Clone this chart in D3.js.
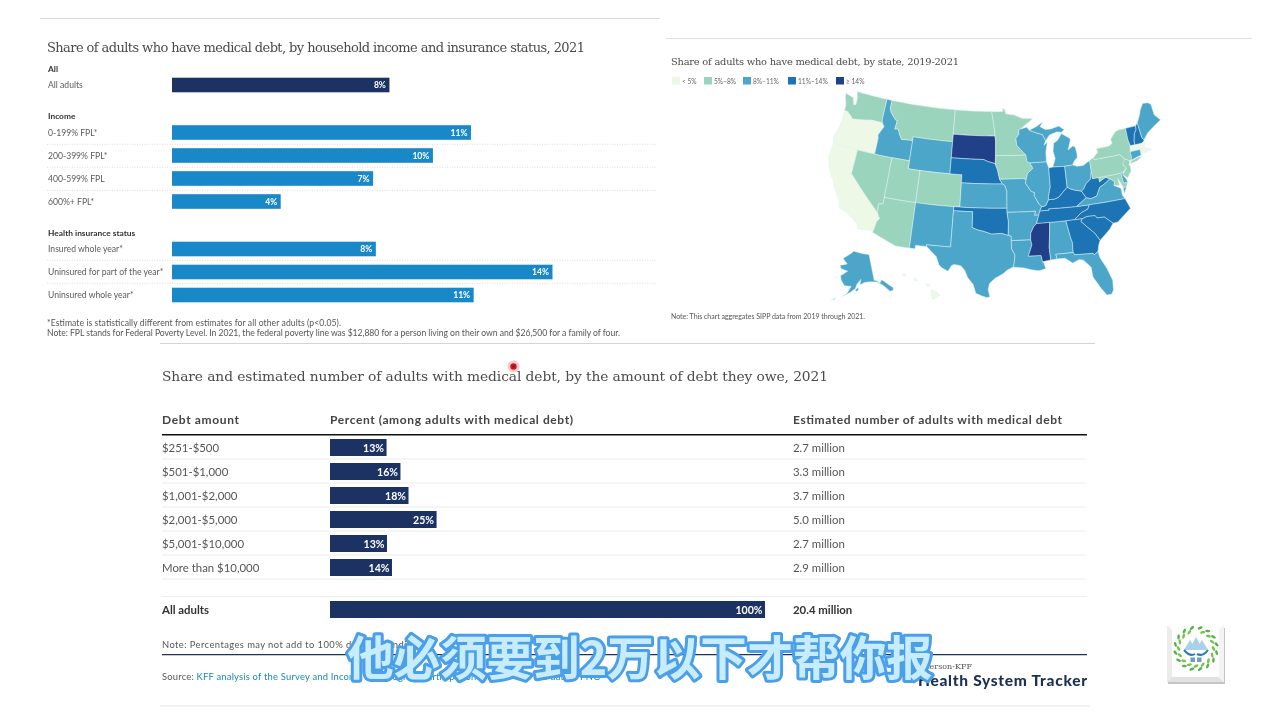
<!DOCTYPE html>
<html><head><meta charset="utf-8">
<style>html,body{margin:0;padding:0;background:#fff}svg{display:block;filter:blur(.3px)}</style>
<script src="https://d3js.org/d3.v7.min.js"></script></head><body><svg id="c" width="1280" height="720"></svg>
<script>
const groupAll=["All adults"], allValues=[8.0];
const incomeCats=["0-199% FPL*","200-399% FPL*","400-599% FPL","600%+ FPL*"], incomeValues=[11.0,9.6,7.4,4.0];
const insuranceCats=["Insured whole year*","Uninsured for part of the year*","Uninsured whole year*"], insuranceValues=[7.5,14.0,11.1];
const debtCats=["$251-$500","$501-$1,000","$1,001-$2,000","$2,001-$5,000","$5,001-$10,000","More than $10,000"];
const debtPercent=[13.0,16.2,18.05,24.5,13.1,14.25];
const debtMillions=["2.7 million","3.3 million","3.7 million","5.0 million","2.7 million","2.9 million"];
const legendLabels=["< 5%","5%–8%","8%–11%","11%–14%","≥ 14%"];
const legendColors=["#edf8e6","#9bd4bc","#4ba6c9","#1c74b4","#21408a"];
const bandUnder5=["OR","CA","MA","RI","HI"];
const band5to8=["WA","MT","ND","MN","IA","NV","UT","CO","AZ","NY","PA","NJ","MD"];
const band8to11=["ID","WY","KS","MO","AR","LA","AL","FL","TX","NM","WI","IL","MI","OH","VA","AK","ME","CT","DE"];
const band11to14=["NE","OK","IN","KY","WV","TN","NC","SC","GA","VT","NH"];
const band14plus=["SD","MS"];
const stateRings={
WA:[[[-124.7,48.4],[-123.2,48.15],[-122.75,47.3],[-122.35,47.4],[-122.45,48.3],[-122.8,49],[-117.03,49],[-117.04,46.4],[-116.92,46],[-118.98,46],[-119.3,45.93],[-121.2,45.65],[-122.3,45.55],[-122.8,45.9],[-123.5,46.25],[-124.05,46.27],[-124.1,47],[-124.6,47.9]]],
OR:[[[-124.05,46.27],[-123.5,46.25],[-122.8,45.9],[-122.3,45.55],[-121.2,45.65],[-119.3,45.93],[-118.98,46],[-116.92,46],[-116.46,45.6],[-116.85,44.95],[-117.2,44.4],[-117.03,44],[-117.03,42],[-120,42],[-124.2,42],[-124.55,42.85],[-124.1,44],[-123.95,45.5]]],
CA:[[[-124.2,42],[-120,42],[-120,39],[-114.63,35],[-114.14,34.3],[-114.5,33.9],[-114.72,32.72],[-117.12,32.53],[-117.3,33.1],[-118.4,33.75],[-119.2,34.15],[-120.6,34.55],[-120.65,35.15],[-121.9,36.6],[-122.5,37.6],[-123,38],[-123.75,39],[-124.35,40.3]]],
NV:[[[-120,42],[-117.03,42],[-114.04,42],[-114.04,37],[-114.04,36.2],[-114.74,36.1],[-114.63,35],[-120,39]]],
ID:[[[-117.03,49],[-116.05,49],[-116.05,48],[-115.7,47.45],[-114.7,46.7],[-114.35,46.65],[-114.5,45.55],[-113.9,45.65],[-113.45,44.95],[-113,44.45],[-111.5,44.55],[-111.05,44.48],[-111.05,42],[-114.04,42],[-117.03,42],[-117.03,44],[-117.2,44.4],[-116.85,44.95],[-116.46,45.6],[-116.92,46],[-117.04,46.4]]],
MT:[[[-116.05,49],[-104.05,49],[-104.05,45.94],[-104.05,45],[-111.05,45],[-111.05,44.48],[-111.5,44.55],[-113,44.45],[-113.45,44.95],[-113.9,45.65],[-114.5,45.55],[-114.35,46.65],[-114.7,46.7],[-115.7,47.45],[-116.05,48]]],
WY:[[[-111.05,45],[-104.05,45],[-104.05,43],[-104.05,41],[-109.05,41],[-111.05,41],[-111.05,42],[-111.05,44.48]]],
UT:[[[-114.04,42],[-111.05,42],[-111.05,41],[-109.05,41],[-109.05,37],[-114.04,37]]],
CO:[[[-109.05,41],[-104.05,41],[-102.05,41],[-102.05,40],[-102.05,37],[-103,37],[-109.05,37]]],
AZ:[[[-114.04,37],[-109.05,37],[-109.05,31.33],[-111.07,31.33],[-114.81,32.5],[-114.72,32.72],[-114.5,33.9],[-114.14,34.3],[-114.63,35],[-114.74,36.1],[-114.04,36.2]]],
NM:[[[-109.05,37],[-103,37],[-103,36.5],[-103.04,32],[-106.62,32],[-106.53,31.78],[-108.2,31.78],[-108.2,31.33],[-109.05,31.33]]],
ND:[[[-104.05,49],[-97.23,49],[-96.85,47.6],[-96.56,45.94],[-104.05,45.94]]],
SD:[[[-104.05,45.94],[-96.56,45.94],[-96.45,45.3],[-96.45,43.5],[-96.5,42.5],[-97.9,42.8],[-98.5,43],[-104.05,43],[-104.05,45]]],
NE:[[[-104.05,43],[-98.5,43],[-97.9,42.8],[-96.5,42.5],[-96.1,41.7],[-95.77,40.58],[-95.3,40],[-102.05,40],[-102.05,41],[-104.05,41]]],
KS:[[[-102.05,40],[-95.3,40],[-94.9,39.8],[-94.6,39.1],[-94.62,37],[-103,37],[-102.05,37]]],
OK:[[[-103,37],[-94.62,37],[-94.62,36.5],[-94.43,35.4],[-94.48,33.64],[-95.5,33.9],[-97,33.8],[-98.1,34.1],[-99.2,34.3],[-100,34.56],[-100,36.5],[-103,36.5]]],
TX:[[[-103,36.5],[-100,36.5],[-100,34.56],[-99.2,34.3],[-98.1,34.1],[-97,33.8],[-95.5,33.9],[-94.48,33.64],[-94.04,33.55],[-94.04,33],[-94.04,32],[-93.55,31.2],[-93.7,30.1],[-93.85,29.7],[-94.7,29.35],[-95.3,28.9],[-96.4,28.35],[-97.2,27.7],[-97.4,26.9],[-97.15,25.96],[-97.6,25.9],[-98.3,26.1],[-99.1,26.4],[-99.5,27.5],[-100.3,28.3],[-100.8,29.25],[-101.4,29.77],[-102.35,29.87],[-102.7,29.7],[-103.15,28.98],[-104,29.3],[-104.5,29.65],[-105,30.65],[-106.53,31.78],[-106.62,32],[-103.04,32]]],
MN:[[[-97.23,49],[-95.15,49],[-95.15,49.38],[-94.8,49.3],[-94.6,48.72],[-93,48.55],[-91.5,48.07],[-89.6,48],[-92,46.75],[-92.3,46.65],[-92.3,46.1],[-92.85,45.6],[-92.75,44.75],[-91.22,43.5],[-96.45,43.5],[-96.45,45.3],[-96.56,45.94],[-96.85,47.6]]],
IA:[[[-96.45,43.5],[-91.22,43.5],[-91.1,42.7],[-90.65,42.5],[-90.15,41.8],[-91.1,41.2],[-91.42,40.38],[-91.73,40.61],[-95.77,40.58],[-96.1,41.7],[-96.5,42.5]]],
MO:[[[-95.77,40.58],[-91.73,40.61],[-91.42,40.38],[-91.5,40],[-90.7,39],[-90.15,38.8],[-90.2,38.4],[-89.5,37.3],[-89.15,37],[-89.5,36.5],[-89.7,36],[-90.37,36],[-90.15,36.5],[-94.62,36.5],[-94.62,37],[-94.6,39.1],[-94.9,39.8],[-95.3,40]]],
AR:[[[-94.62,36.5],[-90.15,36.5],[-90.37,36],[-89.7,36],[-90.1,35],[-90.6,34.6],[-91.1,33.8],[-91.15,33],[-94.04,33],[-94.04,33.55],[-94.48,33.64],[-94.43,35.4]]],
LA:[[[-94.04,33],[-91.15,33],[-91,32.4],[-91.6,31],[-89.75,31],[-89.6,30.2],[-89.4,30],[-89.2,29.3],[-90.2,29.1],[-91.3,29.3],[-92.3,29.55],[-93.85,29.7],[-93.7,30.1],[-93.55,31.2],[-94.04,32]]],
MS:[[[-90.1,35],[-88.2,35],[-88.1,34.9],[-88.47,31.9],[-88.4,30.35],[-89.6,30.2],[-89.75,31],[-91.6,31],[-91,32.4],[-91.15,33],[-91.1,33.8],[-90.6,34.6]]],
AL:[[[-88.2,35],[-85.6,35],[-85.18,32.87],[-85,32.3],[-85.05,31],[-87.6,31],[-87.45,30.4],[-88.4,30.35],[-88.47,31.9],[-88.1,34.9]]],
TN:[[[-90.1,35],[-89.7,36],[-89.5,36.5],[-88.07,36.5],[-88.07,36.68],[-83.68,36.6],[-81.68,36.59],[-82,36.1],[-83.1,35.75],[-84.3,35],[-85.6,35],[-88.2,35]]],
KY:[[[-89.5,36.5],[-89.15,37],[-88.5,37.1],[-88,37.8],[-87.1,37.8],[-86.3,38],[-85.4,38.7],[-84.8,39.1],[-84.2,38.8],[-83.7,38.65],[-82.6,38.4],[-82,37.5],[-83.68,36.6],[-88.07,36.68],[-88.07,36.5]]],
IL:[[[-91.42,40.38],[-91.1,41.2],[-90.15,41.8],[-90.65,42.5],[-87.8,42.5],[-87.5,41.7],[-87.53,39.35],[-87.95,38.2],[-88,37.8],[-88.5,37.1],[-89.15,37],[-89.5,37.3],[-90.2,38.4],[-90.15,38.8],[-90.7,39],[-91.5,40]]],
WI:[[[-92.3,46.65],[-92,46.75],[-90.8,46.95],[-90.4,46.55],[-89.1,46.14],[-88.1,45.9],[-87.6,45.1],[-88,44.55],[-87.35,44.9],[-87.75,43.7],[-87.8,42.5],[-90.65,42.5],[-91.1,42.7],[-91.22,43.5],[-92.75,44.75],[-92.85,45.6],[-92.3,46.1]]],
MI:[[[-86.8,41.76],[-84.8,41.7],[-83.45,41.73],[-83.1,42.2],[-82.5,42.6],[-82.45,43],[-82.6,43.9],[-83,44.07],[-83.9,43.65],[-83.3,44.8],[-83.3,45.05],[-84.7,45.78],[-85.5,45],[-86.25,44.7],[-86.5,43.7],[-86.25,42.8]],[[-90.4,46.55],[-88.9,47],[-87.9,47.45],[-88.4,46.9],[-87.5,46.5],[-86.5,46.5],[-85,46.75],[-84.6,46.5],[-84.1,46.2],[-84.7,45.95],[-85.5,46.05],[-86.9,45.75],[-87.6,45.1],[-88.1,45.9],[-89.1,46.14]]],
IN:[[[-87.5,41.7],[-86.8,41.76],[-84.8,41.7],[-84.8,39.1],[-85.4,38.7],[-86.3,38],[-87.1,37.8],[-88,37.8],[-87.95,38.2],[-87.53,39.35]]],
OH:[[[-84.8,41.7],[-83.45,41.73],[-82.7,41.5],[-81.7,41.5],[-80.52,41.98],[-80.52,40.64],[-80.85,39.7],[-81.7,39.2],[-82.2,38.6],[-82.6,38.4],[-83.7,38.65],[-84.2,38.8],[-84.8,39.1]]],
WV:[[[-82.6,38.4],[-82.2,38.6],[-81.7,39.2],[-80.85,39.7],[-80.52,40.64],[-80.52,39.72],[-79.48,39.72],[-79.48,39.2],[-78.4,39.6],[-77.72,39.32],[-78.35,39],[-78.9,38.75],[-79.6,38.5],[-80.3,37.5],[-81.3,37.3],[-82,37.5]]],
VA:[[[-83.68,36.6],[-82,37.5],[-81.3,37.3],[-80.3,37.5],[-79.6,38.5],[-78.9,38.75],[-78.35,39],[-77.72,39.32],[-77.05,38.85],[-77.3,38.4],[-76.3,37.9],[-76.3,37],[-76,36.55],[-81.68,36.59]],[[-75.4,37.9],[-75.9,37.95],[-75.95,37.15]]],
NC:[[[-84.3,35],[-83.1,35.75],[-82,36.1],[-81.68,36.59],[-76,36.55],[-75.5,35.25],[-76.5,34.65],[-77.8,33.9],[-78.55,33.86],[-79.7,34.8],[-80.8,34.82],[-81.05,35.15],[-82.3,35.2],[-83.1,35]]],
SC:[[[-83.1,35],[-82.3,35.2],[-81.05,35.15],[-80.8,34.82],[-79.7,34.8],[-78.55,33.86],[-79.2,33.2],[-80.5,32.3],[-80.9,32.03],[-81.5,33],[-82.5,33.9],[-83.35,34.7]]],
GA:[[[-85.6,35],[-84.3,35],[-83.1,35],[-83.35,34.7],[-82.5,33.9],[-81.5,33],[-80.9,32.03],[-81.2,31.5],[-81.45,30.72],[-82.05,30.37],[-82.2,30.57],[-84.86,30.7],[-85.05,31],[-85,32.3],[-85.18,32.87]]],
FL:[[[-87.6,31],[-85.05,31],[-84.86,30.7],[-82.2,30.57],[-82.05,30.37],[-81.45,30.72],[-81.3,29.9],[-80.55,28.4],[-80.05,26.9],[-80.15,25.7],[-80.45,25.2],[-81.15,25.15],[-81.8,26.1],[-82.7,27.7],[-82.75,28.9],[-83.7,29.9],[-84.3,30.05],[-85.3,29.7],[-86.3,30.4],[-87.45,30.4]]],
MD:[[[-79.48,39.72],[-75.79,39.72],[-75.7,38.46],[-75.05,38.45],[-75.4,37.9],[-75.9,37.95],[-76.2,38.6],[-76.5,39.2],[-76.4,38.3],[-77.3,38.4],[-77.05,38.85],[-77.72,39.32],[-78.4,39.6],[-79.48,39.2]]],
DE:[[[-75.79,39.72],[-75.4,39.8],[-75.55,39.45],[-75.1,38.8],[-75.05,38.45],[-75.7,38.46]]],
NJ:[[[-75.35,41.2],[-74.7,41.36],[-73.9,41],[-74.2,40.45],[-74,40.4],[-74.1,39.7],[-74.9,38.95],[-75.55,39.5],[-74.75,40.2],[-75.2,40.7]]],
PA:[[[-80.52,41.98],[-79.76,42.27],[-79.76,42],[-75.35,42],[-74.7,41.36],[-75.2,40.7],[-74.75,40.2],[-75.4,39.8],[-75.79,39.72],[-79.48,39.72],[-80.52,39.72],[-80.52,40.64]]],
NY:[[[-79.76,42],[-79.76,42.27],[-78.9,42.85],[-79.05,43.27],[-76.8,43.3],[-76.2,43.55],[-76.3,44.1],[-75.3,44.85],[-74.7,45],[-73.35,45],[-73.4,43.6],[-73.25,42.75],[-73.5,42.05],[-73.5,41.3],[-73.65,41],[-73.9,41],[-74.7,41.36],[-75.35,42]],[[-74,40.6],[-73.7,40.9],[-72.3,41.15],[-71.9,41.05],[-72.7,40.75]]],
VT:[[[-73.35,45],[-71.5,45],[-71.6,44.5],[-72.05,44.1],[-72.4,43.2],[-72.46,42.73],[-73.25,42.75],[-73.4,43.6]]],
NH:[[[-71.5,45],[-71.08,45.3],[-70.98,43.4],[-70.7,43.05],[-70.85,42.87],[-71.3,42.7],[-72.46,42.73],[-72.4,43.2],[-72.05,44.1],[-71.6,44.5]]],
ME:[[[-71.08,45.3],[-70.3,46.2],[-70,46.7],[-69.23,47.46],[-68.3,47.36],[-67.8,47.07],[-67.8,45.7],[-67,44.85],[-68.5,44.3],[-69.8,43.75],[-70.7,43.05],[-70.98,43.4]]],
MA:[[[-73.5,42.05],[-73.25,42.75],[-72.46,42.73],[-71.3,42.7],[-70.85,42.87],[-70.6,42.65],[-71,42.3],[-70.6,41.95],[-70.05,41.8],[-70,41.65],[-70.65,41.55],[-71.12,41.5],[-71.38,42.02],[-71.8,42.02]]],
RI:[[[-71.8,42.02],[-71.38,42.02],[-71.12,41.5],[-71.85,41.32]]],
CT:[[[-73.5,42.05],[-71.8,42.02],[-71.85,41.32],[-73.65,41],[-73.5,41.3]]],
AK:[[[-156.5,71.3],[-141,69.6],[-141,60.3],[-139.5,60],[-137.5,58.9],[-135.5,59.8],[-133.4,58.4],[-130,55.9],[-130.5,55],[-132.5,55],[-135,57.2],[-136.5,58.2],[-139.5,59.5],[-144,60],[-148,60],[-151.5,59.2],[-150.5,61.2],[-153.5,59.5],[-154.5,58],[-158,56.5],[-163,54.8],[-160,56],[-157.5,58.7],[-162,58.7],[-165,60.5],[-166,62],[-161,64],[-166.5,64.5],[-168,65.6],[-162,66.5],[-166.5,68.3]],[[-166.5,53.9],[-168,53.3],[-169,52.9],[-167,53.4]],[[-154.6,57.4],[-152.6,58.4],[-152.4,57.6],[-153.9,56.8]]],
HI:[[[-155.9,20.25],[-155.1,19.85],[-154.8,19.5],[-155.65,18.95],[-155.95,19.5]],[[-156.7,21.0],[-156.0,20.8],[-156.4,20.6]],[[-158.25,21.55],[-157.95,21.7],[-157.7,21.3],[-158.1,21.3]],[[-159.75,22.1],[-159.35,22.2],[-159.35,21.9],[-159.6,21.9]]]
};
const bandOf=new Map();
[bandUnder5,band5to8,band8to11,band11to14,band14plus].forEach((list,i)=>list.forEach(s=>bandOf.set(s,i)));

const svg=d3.select("#c");
const SANS="Lato, 'Open Sans', sans-serif", SERIF="'DejaVu Serif', serif";
function label(x,y,t,o={}){
  const e=svg.append("text").attr("x",x).attr("y",y).attr("dominant-baseline","central")
   .attr("font-family",o.font||SANS).attr("font-size",o.size||9).attr("fill",o.fill||"#555")
   .attr("font-weight",o.weight||400).attr("text-anchor",o.anchor||"start").text(t);
  if(o.w) e.attr("textLength",o.w).attr("lengthAdjust","spacing");
  return e;
}
function hline(x1,x2,y,c,w,d){const l=svg.append("line").attr("x1",x1).attr("x2",x2).attr("y1",y).attr("y2",y).attr("stroke",c).attr("stroke-width",w);if(d)l.attr("stroke-dasharray",d);}

/* panel 1 */
hline(40,660,18.5,"#d9d9d9",1);
label(47,47,"Share of adults who have medical debt, by household income and insurance status, 2021",{font:SERIF,size:13,fill:"#4a4a4a",w:538});
const x1=d3.scaleLinear().domain([0,14]).range([172,552.5]);
function barGroup(cats,vals,ys,color){
  cats.forEach((c,i)=>{
    svg.append("rect").attr("x",x1(0)).attr("y",ys[i]-7.3).attr("width",x1(vals[i])-x1(0)).attr("height",14.6).attr("fill",color);
    label(48,ys[i],c,{size:8.6,fill:"#5b5b5b"});
    label(x1(vals[i])-3.5,ys[i],Math.round(vals[i])+"%",{size:8.6,weight:700,fill:"#fff",anchor:"end"});
  });
}
label(48,68.7,"All",{size:8.4,weight:700,fill:"#333"});
barGroup(groupAll,allValues,[85],"#1c3263");
label(48,116,"Income",{size:8.4,weight:700,fill:"#333"});
barGroup(incomeCats,incomeValues,[132.5,155.5,178.5,201.5],"#1888c9");
[144.3,167.3,190.3,260.3,283.3].forEach(y=>hline(47,657,y,"#cfcfcf",.7,"1 1.5"));
label(48,233,"Health insurance status",{size:8.4,weight:700,fill:"#333"});
barGroup(insuranceCats,insuranceValues,[249,272,295],"#1888c9");
label(47,323,"*Estimate is statistically different from estimates for all other adults (p<0.05).",{size:8.6,w:294});
label(47,333,"Note: FPL stands for Federal Poverty Level. In 2021, the federal poverty line was $12,880 for a person living on their own and $26,500 for a family of four.",{size:8.6,w:573});

/* panel 2 map */
hline(666,1252,38.5,"#e0e0e0",1);
label(671,61,"Share of adults who have medical debt, by state, 2019-2021",{font:SERIF,size:9.9,fill:"#4a4a4a",w:288});
const legX=[672,704,743,788,836];
legendLabels.forEach((t,i)=>{
  svg.append("rect").attr("x",legX[i]).attr("y",77).attr("width",8).attr("height",7.5).attr("fill",legendColors[i]);
  label(legX[i]+10,80.7,t,{size:6.6,fill:"#666"});
});
const projection=d3.geoAlbersUsa().scale(460).translate([994.5,194.5]);
const path=d3.geoPath(projection);
function dense(ring){
  const out=[];
  ring.forEach((p,i)=>{
    const q=ring[(i+1)%ring.length],n=Math.max(1,Math.ceil(Math.max(Math.abs(q[0]-p[0]),Math.abs(q[1]-p[1]))));
    for(let k=0;k<n;k++)out.push([p[0]+(q[0]-p[0])*k/n,p[1]+(q[1]-p[1])*k/n]);
  });
  out.push(out[0]);
  return out;
}
const features=Object.entries(stateRings).map(([id,rings])=>{
  const polys=rings.map(r=>{
    let ring=dense(r);
    if(d3.geoArea({type:"Polygon",coordinates:[ring]})>2*Math.PI)ring=ring.slice().reverse();
    return [ring];
  });
  return {type:"Feature",id,geometry:{type:"MultiPolygon",coordinates:polys}};
});
svg.append("g").selectAll("path").data(features).join("path")
  .attr("d",path).attr("fill",d=>legendColors[bandOf.get(d.id)])
  .attr("stroke","#dff1f2").attr("stroke-width",.5).attr("stroke-linejoin","round");
label(671,316,"Note: This chart aggregates SIPP data from 2019 through 2021.",{size:7,fill:"#555",w:194});

/* panel 3 table */
hline(160,1095,343.5,"#d5d5d5",1);
label(162,376,"Share and estimated number of adults with medical debt, by the amount of debt they owe, 2021",{font:SERIF,size:13.8,fill:"#4a4a4a",w:666});
label(162,419.5,"Debt amount",{size:12,weight:700,fill:"#444",w:77});
label(330,419.5,"Percent (among adults with medical debt)",{size:12,weight:700,fill:"#444",w:243});
label(793,419.5,"Estimated number of adults with medical debt",{size:12,weight:700,fill:"#444",w:269});
hline(162,1087,434.7,"#111",1.6);
const x3=d3.scaleLinear().domain([0,100]).range([330,765]);
const rowY=[447,471,495,519,543,567];
debtCats.forEach((c,i)=>{
  label(162,rowY[i],c,{size:11.4,fill:"#555"});
  svg.append("rect").attr("x",x3(0)).attr("y",rowY[i]-8).attr("width",x3(debtPercent[i])-x3(0)).attr("height",17).attr("fill","#1c3263");
  label(x3(debtPercent[i])-2.5,rowY[i]+.5,Math.round(debtPercent[i])+"%",{size:10.6,weight:700,fill:"#fff",anchor:"end"});
  label(793,rowY[i],debtMillions[i],{size:11.4,fill:"#555"});
  hline(162,1087,rowY[i]+12,"#ececec",1);
});
hline(162,1087,596.7,"#ececec",1);
label(162,609,"All adults",{size:11.4,weight:700,fill:"#333"});
svg.append("rect").attr("x",x3(0)).attr("y",601).attr("width",x3(100)-x3(0)).attr("height",17).attr("fill","#1c3263");
label(x3(100)-2.5,609.5,"100%",{size:10.6,weight:700,fill:"#fff",anchor:"end"});
label(793,609,"20.4 million",{size:11.4,weight:700,fill:"#333"});
label(162,644,"Note: Percentages may not add to 100% due to rounding.",{size:9.4,fill:"#555",w:258});
hline(162,1087,654.7,"#1c3263",1.2);
const src=label(162,676,"Source: ",{size:9.4,fill:"#555",w:438});
src.append("tspan").attr("fill","#1a8ab0").text("KFF analysis of the Survey and Income and Program Participation (SIPP)");
src.append("tspan").attr("fill","#555").text(" • ");
src.append("tspan").attr("fill","#1a8ab0").text("Get the data");
src.append("tspan").attr("fill","#555").text(" • ");
src.append("tspan").attr("fill","#1a8ab0").text("PNG");
label(972,666,"Peterson-KFF",{font:SERIF,size:8,fill:"#555",anchor:"end"});
label(1087,680,"Health System Tracker",{size:15.5,weight:900,fill:"#1c2f55",anchor:"end",w:169});
hline(160,1090,706,"#e4e4e4",1);

/* cursor */
svg.append("circle").attr("cx",513.5).attr("cy",366.5).attr("r",6).attr("fill","#f7b3b3").attr("opacity",.7);
svg.append("circle").attr("cx",513.5).attr("cy",366.5).attr("r",3.2).attr("fill","#d3122e");
svg.append("circle").attr("cx",513.5).attr("cy",366.5).attr("r",1.1).attr("fill","#6a0a12");

/* logo */
const lg=svg.append("g");
lg.append("rect").attr("x",1168).attr("y",628).attr("width",57).attr("height",56).attr("fill","#c4c4c4");
lg.append("rect").attr("x",1167).attr("y",625).attr("width",57).attr("height",57).attr("fill","#fdfdfd");
lg.append("polygon").attr("points","1167,625 1172,630 1172,677 1167,682").attr("fill","#ececec");
lg.append("polygon").attr("points","1167,682 1172,677 1219,677 1224,682").attr("fill","#e2e2e2");
lg.append("polygon").attr("points","1224,625 1219,630 1219,677 1224,682").attr("fill","#f3f3f3");
d3.range(1,32).forEach(i=>{
  const a=i/32*360;
  lg.append("ellipse").attr("cx",0).attr("cy",i%2?-21:-17.5).attr("rx",1.3).attr("ry",2.6)
    .attr("transform",`translate(1196,648.5) rotate(${a}) rotate(60 0 ${i%2?-21:-17.5})`).attr("fill",i%2?"#55b04e":"#7cc24a");
});
[[1184,650,1190,640,1196,650],[1189,650,1196,637,1203,650],[1196,650,1202,640,1208,650]].forEach(p=>
  lg.append("polygon").attr("points",`${p[0]},${p[1]} ${p[2]},${p[3]} ${p[4]},${p[5]}`).attr("fill","#a8d2ec"));
lg.append("path").attr("d","M1184,650 Q1190,657 1195,654 M1197,654 Q1203,657 1208,650").attr("stroke","#2a77b5").attr("stroke-width",2).attr("fill","none");
lg.append("rect").attr("x",1190.5).attr("y",657.5).attr("width",4.5).attr("height",4.5).attr("fill","#6c9cc9");
lg.append("rect").attr("x",1197).attr("y",657.5).attr("width",4.5).attr("height",4.5).attr("fill","#6c9cc9");

/* subtitle */
svg.append("text").attr("x",640).attr("y",654).attr("dominant-baseline","central").attr("text-anchor","middle")
 .attr("font-family","'Noto Sans CJK SC'").attr("font-weight",700).attr("font-size",46.5)
 .attr("fill","#c6ecfd").attr("stroke","#4a9fe8").attr("stroke-width",6).attr("stroke-linejoin","round")
 .attr("paint-order","stroke").text("他必须要到2万以下才帮你报");
</script></body></html>
